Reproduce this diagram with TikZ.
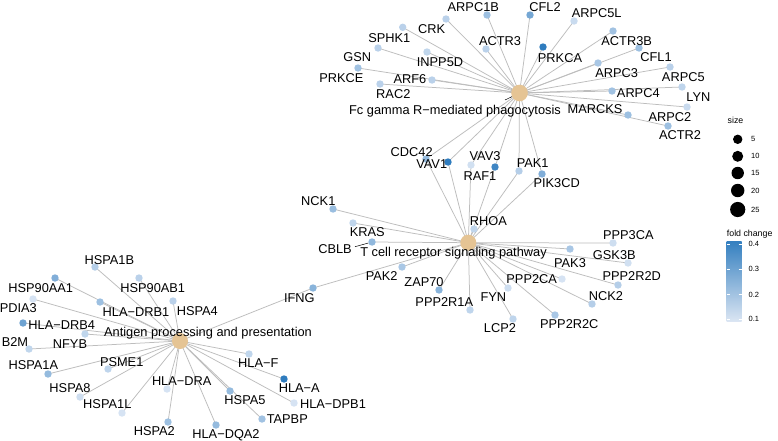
\documentclass[tikz,border=0pt]{standalone}
\usepackage{fontspec}
\setmainfont{Liberation Sans}
\pgfdeclarelayer{bg}
\pgfsetlayers{bg,main}
\definecolor{fclo}{HTML}{D6E3F3}
\definecolor{fchi}{HTML}{2F7CBE}
\definecolor{barhi}{HTML}{3580C0}
\definecolor{barlo}{HTML}{DCE6F3}
\definecolor{hubc}{HTML}{E5C494}
\definecolor{edgec}{HTML}{BDBDBD}
\tikzset{
  gene/.style={circle,inner sep=0pt,minimum size=7.4pt,fill=fchi!#1!fclo,draw=none},
  hub/.style={circle,inner sep=0pt,minimum size=#1,fill=hubc,draw=none},
  lab/.style={anchor=base,inner sep=0pt,font=\fontsize{12.8}{13}\selectfont},
  edge/.style={draw=edgec,line width=0.75pt},
  leader/.style={draw=black,line width=0.5pt},
  legtitle/.style={anchor=base west,inner sep=0pt,font=\fontsize{8.8}{9}\selectfont},
  legtext/.style={anchor=west,inner sep=0pt,font=\fontsize{7.5}{8}\selectfont},
  sizedot/.style={circle,inner sep=0pt,minimum size=#1,fill=black,draw=none},
  tickmark/.style={draw=white,line width=0.6pt},
}
\begin{document}
\begin{tikzpicture}[x=1pt,y=-1pt]
\useasboundingbox (0,0) rectangle (778,440);

% hubs
\node[hub=16.6pt] (F) at (519.5,93) {};
\node[hub=16pt] (T) at (468.3,242.7) {};
\node[hub=16pt] (A) at (180,341) {};

% Fc gamma genes
\node[gene=17] (SPHK1) at (402.7,27.3) {};
\node[gene=17] (CRK) at (446,19) {};
\node[gene=34] (ARPC1B) at (487,15) {};
\node[gene=58] (CFL2) at (530,15) {};
\node[gene=8] (ARPC5L) at (574,21) {};
\node[gene=17] (ACTR3) at (486,49) {};
\node[gene=100] (PRKCA) at (543,47) {};
\node[gene=32] (ACTR3B) at (613,31) {};
\node[gene=34] (CFL1) at (639,48) {};
\node[gene=13] (INPP5D) at (427,52) {};
\node[gene=27] (ARPC3) at (598,63) {};
\node[gene=17] (ARPC5) at (670,67) {};
\node[gene=17] (ARF6) at (432,80) {};
\node[gene=17] (RAC2) at (380,84) {};
\node[gene=17] (GSN) at (378,48) {};
\node[gene=32] (PRKCE) at (358,68) {};
\node[gene=32] (ARPC4) at (612,91) {};
\node[gene=14] (LYN) at (682,87) {};
\node[gene=8] (ARPC2) at (687,107) {};
\node[gene=34] (MARCKS) at (628,115) {};
\node[gene=34] (ACTR2) at (668,126) {};
% shared Fc / T cell
\node[gene=39] (CDC42) at (426,159) {};
\node[gene=100] (VAV1) at (448,162) {};
\node[gene=3] (RAF1) at (471,165) {};
\node[gene=90] (VAV3) at (495,167) {};
\node[gene=20] (PAK1) at (519,171) {};
\node[gene=51] (PIK3CD) at (542,174) {};
% T cell genes
\node[gene=36] (NCK1) at (333,209) {};
\node[gene=14] (KRAS) at (353,223) {};
\node[gene=42] (CBLB) at (372,242) {};
\node[gene=14] (RHOA) at (474,229) {};
\node[gene=5] (PPP3CA) at (613,243) {};
\node[gene=27] (GSK3B) at (570,249) {};
\node[gene=3] (PAK3) at (628,263) {};
\node[gene=20] (PPP2R2D) at (618,285) {};
\node[gene=0] (PPP2CA) at (562,279) {};
\node[gene=5] (FYN) at (508,288) {};
\node[gene=20] (NCK2) at (592,304) {};
\node[gene=27] (PPP2R2C) at (555,315) {};
\node[gene=14] (LCP2) at (513,319) {};
\node[gene=14] (PPP2R1A) at (470,310) {};
\node[gene=46] (ZAP70) at (439,290) {};
\node[gene=27] (PAK2) at (402,267) {};
% shared T cell / Antigen
\node[gene=46] (IFNG) at (313,288) {};
% Antigen genes
\node[gene=20] (HSPA1B) at (95,267) {};
\node[gene=51] (HSP90AA1) at (55,278) {};
\node[gene=17] (HSP90AB1) at (139,278) {};
\node[gene=0] (PDIA3) at (33,299) {};
\node[gene=34] (HLADRB1) at (100,302) {};
\node[gene=17] (HSPA4) at (173,301) {};
\node[gene=62] (HLADRB4) at (23,323) {};
\node[gene=13] (NFYB) at (85,334) {};
\node[gene=13] (B2M) at (29,349) {};
\node[gene=39] (HSPA1A) at (48,374) {};
\node[gene=14] (PSME1) at (108,369) {};
\node[gene=5] (HSPA8) at (80,397) {};
\node[gene=0] (HSPA1L) at (122,413) {};
\node[gene=0] (HLADRA) at (167,389) {};
\node[gene=34] (HSPA2) at (168,422) {};
\node[gene=39] (HLADQA2) at (216,425) {};
\node[gene=39] (HSPA5) at (230,391) {};
\node[gene=32] (TAPBP) at (262,419) {};
\node[gene=13] (HLAF) at (249,354) {};
\node[gene=100] (HLAA) at (284,379) {};
\node[gene=0] (HLADPB1) at (294,403) {};

% background and edges
\begin{pgfonlayer}{bg}
\fill[white] (0,0) rectangle (778,440);
\foreach \g in {SPHK1,CRK,ARPC1B,CFL2,ARPC5L,ACTR3,PRKCA,ACTR3B,CFL1,INPP5D,ARPC3,ARPC5,ARF6,RAC2,GSN,PRKCE,ARPC4,LYN,ARPC2,MARCKS,ACTR2,CDC42,VAV1,RAF1,VAV3,PAK1,PIK3CD}
  \draw[edge] (F.center) -- (\g.center);
\foreach \g in {CDC42,VAV1,RAF1,VAV3,PAK1,PIK3CD,NCK1,KRAS,CBLB,RHOA,PPP3CA,GSK3B,PAK3,PPP2R2D,PPP2CA,FYN,NCK2,PPP2R2C,LCP2,PPP2R1A,ZAP70,PAK2,IFNG}
  \draw[edge] (T.center) -- (\g.center);
\foreach \g in {IFNG,HSPA1B,HSP90AA1,HSP90AB1,PDIA3,HLADRB1,HSPA4,HLADRB4,NFYB,B2M,HSPA1A,PSME1,HSPA8,HSPA1L,HLADRA,HSPA2,HLADQA2,HSPA5,TAPBP,HLAF,HLAA,HLADPB1}
  \draw[edge] (A.center) -- (\g.center);
\end{pgfonlayer}

% labels Fc
\node[lab] (lARPC1B) at (473.3,11.2) {ARPC1B};
\node[lab] (lCFL2) at (545,11) {CFL2};
\node[lab] (lARPC5L) at (596.7,17.3) {ARPC5L};
\node[lab] (lCRK) at (431.7,33.3) {CRK};
\node[lab] (lSPHK1) at (389.3,42.9) {SPHK1};
\node[lab] (lACTR3) at (500,45.9) {ACTR3};
\node[lab] (lACTR3B) at (626.7,45.9) {ACTR3B};
\node[lab] (lPRKCA) at (560,62.6) {PRKCA};
\node[lab] (lCFL1) at (656,61.9) {CFL1};
\node[lab] (lGSN) at (357.3,61.9) {GSN};
\node[lab] (lINPP5D) at (440,66.6) {INPP5D};
\node[lab] (lARPC3) at (616.7,77.3) {ARPC3};
\node[lab] (lARPC5) at (683.3,81.9) {ARPC5};
\node[lab] (lPRKCE) at (341.3,82.9) {PRKCE};
\node[lab] (lARF6) at (410,83.9) {ARF6};
\node[lab] (lRAC2) at (393.3,98.6) {RAC2};
\node[lab] (lARPC4) at (638.3,97.3) {ARPC4};
\node[lab] (lLYN) at (698.3,101.3) {LYN};
\node[lab] (lMARCKS) at (595,113.3) {MARCKS};
\node[lab] (lARPC2) at (670,121.3) {ARPC2};
\node[lab] (lACTR2) at (680,139.9) {ACTR2};
\node[lab] (lF) at (455,114) {Fc gamma R−mediated phagocytosis};
\draw[leader] (505,100) -- (F);
\node[lab] (lCDC42) at (411.7,156.3) {CDC42};
\node[lab] (lVAV1) at (431.7,168.6) {VAV1};
\node[lab] (lVAV3) at (485,160.6) {VAV3};
\node[lab] (lRAF1) at (480,180.6) {RAF1};
\node[lab] (lPAK1) at (532.7,167.9) {PAK1};
\node[lab] (lPIK3CD) at (556.7,187.3) {PIK3CD};

% labels T cell
\node[lab] (lNCK1) at (318.3,205.3) {NCK1};
\node[lab] (lKRAS) at (367.3,236.6) {KRAS};
\node[lab] (lCBLB) at (335,253.3) {CBLB};
\draw[leader] (355,246.7) -- (CBLB);
\node[lab] (lRHOA) at (488.3,225.3) {RHOA};
\node[lab] (lT) at (453.5,256.7) {T cell receptor signaling pathway};
\node[lab] (lPPP3CA) at (628.3,239.6) {PPP3CA};
\node[lab] (lGSK3B) at (614.3,259.9) {GSK3B};
\node[lab] (lPAK3) at (570,267.9) {PAK3};
\node[lab] (lPPP2R2D) at (631.7,280.6) {PPP2R2D};
\node[lab] (lPPP2CA) at (531.7,283.6) {PPP2CA};
\node[lab] (lNCK2) at (606,300.3) {NCK2};
\node[lab] (lPPP2R2C) at (569.3,328.3) {PPP2R2C};
\node[lab] (lLCP2) at (500,332.9) {LCP2};
\node[lab] (lFYN) at (493.3,301.3) {FYN};
\node[lab] (lPPP2R1A) at (444.3,306.3) {PPP2R1A};
\node[lab] (lZAP70) at (424,286.3) {ZAP70};
\node[lab] (lPAK2) at (381.7,280.6) {PAK2};
\node[lab] (lIFNG) at (299.3,302.3) {IFNG};

% labels Antigen
\node[lab] (lHSPA1B) at (109.3,264.6) {HSPA1B};
\node[lab] (lHSP90AA1) at (40.7,292.6) {HSP90AA1};
\node[lab] (lHSP90AB1) at (152.7,292.6) {HSP90AB1};
\node[lab] (lPDIA3) at (18.3,312.9) {PDIA3};
\node[lab] (lHLADRB1) at (136,316.3) {HLA−DRB1};
\node[lab] (lHSPA4) at (197.3,315.6) {HSPA4};
\node[lab] (lHLADRB4) at (61.7,329.9) {HLA−DRB4};
\node[lab] (lA) at (208,336) {Antigen processing and presentation};
\node[lab] (lNFYB) at (70,348.3) {NFYB};
\node[lab] (lB2M) at (15,346.6) {B2M};
\node[lab] (lHSPA1A) at (33.3,369.9) {HSPA1A};
\node[lab] (lPSME1) at (121.7,366.3) {PSME1};
\node[lab] (lHSPA8) at (70,392.6) {HSPA8};
\node[lab] (lHSPA1L) at (107.3,408.6) {HSPA1L};
\node[lab] (lHLADRA) at (181.7,385.9) {HLA−DRA};
\node[lab] (lHSPA2) at (154.3,435.3) {HSPA2};
\node[lab] (lHLADQA2) at (226,438.6) {HLA−DQA2};
\node[lab] (lHSPA5) at (245,404.6) {HSPA5};
\node[lab] (lTAPBP) at (287.3,423.9) {TAPBP};
\node[lab] (lHLAF) at (258.3,367.3) {HLA−F};
\node[lab] (lHLAA) at (299.3,392.6) {HLA−A};
\node[lab] (lHLADPB1) at (333,408.6) {HLA−DPB1};

% legend: size
\node[legtitle] (sizetitle) at (727.5,123.5) {size};
\node[sizedot=9.4pt] (s5) at (737.7,139.3) {};
\node[sizedot=11pt] (s10) at (737.7,156.3) {};
\node[sizedot=12.4pt] (s15) at (737.7,173) {};
\node[sizedot=13.4pt] (s20) at (737.7,190.5) {};
\node[sizedot=15.2pt] (s25) at (737.7,209.5) {};
\node[legtext] (t5) at (751,139.3) {5};
\node[legtext] (t10) at (751,156.3) {10};
\node[legtext] (t15) at (751,173) {15};
\node[legtext] (t20) at (751,190.5) {20};
\node[legtext] (t25) at (751,209.5) {25};

% legend: fold change
\node[legtitle] (fctitle) at (726.7,236) {fold change};
\node[rectangle,inner sep=0pt,minimum width=15pt,minimum height=80pt,top color=barhi,bottom color=barlo,draw=none] (cbar) at (734.2,281.7) {};
\foreach \yy in {244,269,294.5,319.3}{
  \draw[tickmark] (726.7,\yy) -- (729.7,\yy);
  \draw[tickmark] (738.7,\yy) -- (741.7,\yy);
}
\node[legtext] (c4) at (748.5,244) {0.4};
\node[legtext] (c3) at (748.5,269) {0.3};
\node[legtext] (c2) at (748.5,294.5) {0.2};
\node[legtext] (c1) at (748.5,319.3) {0.1};
\end{tikzpicture}
\end{document}
